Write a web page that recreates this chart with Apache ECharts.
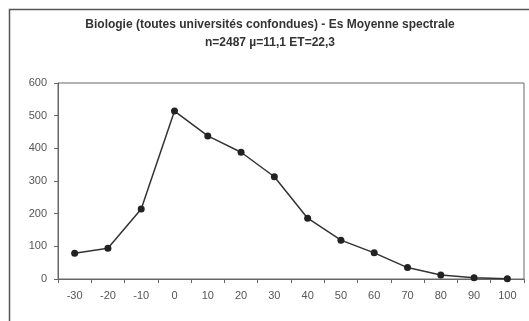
<!DOCTYPE html>
<html>
<head>
<meta charset="utf-8">
<script src="https://cdn.jsdelivr.net/npm/echarts@6/dist/echarts.min.js"></script>
<style>
html, body { margin: 0; padding: 0; background: #fff; }
#chart { width: 529px; height: 321px; }
</style>
</head>
<body>
<div id="chart"></div>
<script>
// classes de la moyenne spectrale
var categories = ['-30', '-20', '-10', '0', '10', '20', '30', '40', '50', '60', '70', '80', '90', '100'];
var effectifs = [79, 94, 214, 514, 438, 388, 313, 186, 119, 80, 35, 12, 4, 1];
var titleLine1 = 'Biologie (toutes universités confondues) - Es Moyenne spectrale';
var titleLine2 = 'n=2487 µ=11,1 ET=22,3';

var chart = echarts.init(document.getElementById('chart'));

chart.setOption({
    animation: false,
    graphic: [{
        type: 'rect',
        shape: { x: 9.5, y: 9.5, width: 530, height: 330 },
        style: { fill: 'none', stroke: '#555', lineWidth: 1.5 }
    }],
    title: {
        text: titleLine1 + '\n' + titleLine2,
        left: 270,
        textAlign: 'center',
        top: 16,
        padding: 0,
        textStyle: {
            fontFamily: 'Liberation Sans',
            fontSize: 12,
            fontWeight: 'bold',
            color: '#333',
            lineHeight: 18
        }
    },
    grid: {
        left: 58,
        right: 5,
        top: 83,
        bottom: 42,
        show: true,
        borderColor: '#666',
        borderWidth: 1
    },
    xAxis: {
        type: 'category',
        data: categories,
        boundaryGap: true,
        axisLine: { lineStyle: { color: '#666' } },
        axisTick: { show: true, length: 4, lineStyle: { color: '#666' } },
        axisLabel: {
            color: '#555',
            fontFamily: 'Liberation Sans',
            fontSize: 11,
            margin: 11
        }
    },
    yAxis: {
        type: 'value',
        min: 0,
        max: 600,
        interval: 100,
        splitLine: { show: false },
        axisLine: { show: true, lineStyle: { color: '#666' } },
        axisTick: { show: true, length: 4, lineStyle: { color: '#666' } },
        axisLabel: {
            color: '#555',
            fontFamily: 'Liberation Sans',
            fontSize: 11,
            margin: 11
        }
    },
    series: [{
        type: 'line',
        data: effectifs,
        symbol: 'circle',
        symbolSize: 7,
        itemStyle: { color: '#222' },
        lineStyle: { color: '#333', width: 1.5 }
    }]
});
</script>
</body>
</html>
